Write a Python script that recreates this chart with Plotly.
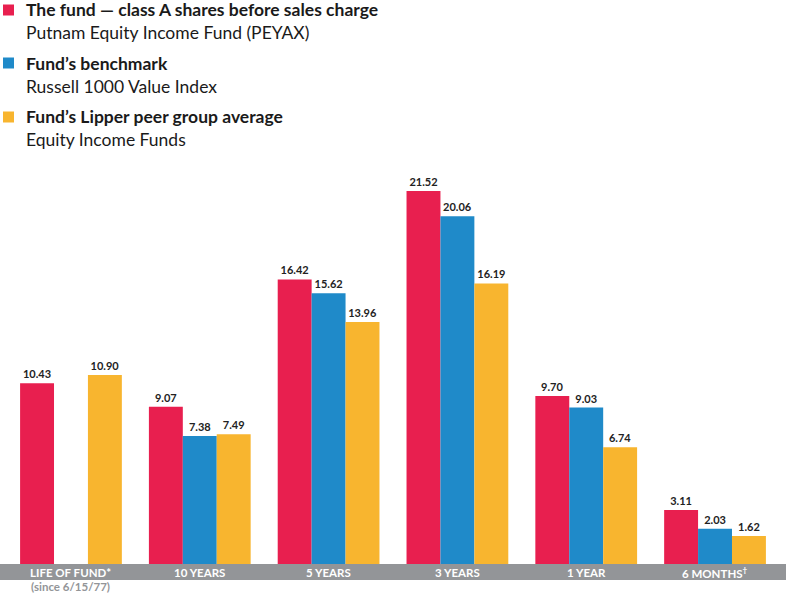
import plotly.graph_objects as go

categories = ["LIFE OF FUND*", "10 YEARS", "5 YEARS", "3 YEARS", "1 YEAR", "6 MONTHS<sup>†</sup>"]
fund = [10.43, 9.07, 16.42, 21.52, 9.70, 3.11]
benchmark = [None, 7.38, 15.62, 20.06, 9.03, 2.03]
peer = [10.90, 7.49, 13.96, 16.19, 6.74, 1.62]

series_names = ["The fund — class A shares before sales charge", "Fund’s benchmark", "Fund’s Lipper peer group average"]
series_subs = ["Putnam Equity Income Fund (PEYAX)", "Russell 1000 Value Index", "Equity Income Funds"]
colors = ["#E81F4F", "#1F8AC9", "#F8B52F"]

FONT = "Lato"

fig = go.Figure()
for vals, name, col in zip([fund, benchmark, peer], series_names, colors):
    xs = [i for i, v in enumerate(vals) if v is not None]
    ys = [v for v in vals if v is not None]
    fig.add_trace(go.Bar(
        x=xs, y=ys, name=name, marker_color=col, marker_line_width=0,
        texttemplate="<b>%{y:.2f}</b>", textposition="outside",
        textfont=dict(family=FONT, size=11, color="#222"),
        cliponaxis=False, hoverinfo="skip",
    ))

W, H = 786, 595
T, B = 160, 31
plot_h = H - T - B

fig.update_layout(
    width=W, height=H,
    margin=dict(l=0, r=0, t=T, b=B),
    barmode="group", bargap=0.21, bargroupgap=0,
    plot_bgcolor="white", paper_bgcolor="white",
    showlegend=False,
    xaxis=dict(range=[-0.551, 5.551], showticklabels=False, showgrid=False, zeroline=False, ticks=""),
    yaxis=dict(range=[0, 23.31], visible=False),
)

def py(pix):
    return (H - B - pix) / plot_h

# gray category band
fig.add_shape(type="rect", xref="paper", yref="paper", x0=0, x1=1, y0=py(580), y1=py(564),
              fillcolor="#939598", line_width=0, layer="above")

for i, c in enumerate(categories):
    fig.add_annotation(x=i, xref="x", y=py(572.5), yref="paper", text="<b>" + c + "</b>",
                       showarrow=False, font=dict(family=FONT, size=11.5, color="white"),
                       yanchor="middle")
fig.add_annotation(x=0, xref="x", y=py(586), yref="paper", text="<b>(since 6/15/77)</b>",
                   showarrow=False, font=dict(family=FONT, size=11.5, color="#939598"),
                   yanchor="middle")

# custom legend
legend_y = [10, 63, 117]
for name, sub, col, ly in zip(series_names, series_subs, colors, legend_y):
    fig.add_shape(type="rect", xref="paper", yref="paper",
                  x0=3/W, x1=14/W, y0=py(ly + 5.5), y1=py(ly - 5.5),
                  fillcolor=col, line_width=0)
    fig.add_annotation(x=24/W, xref="paper", y=py(ly), yref="paper", text="<b>" + name + "</b>",
                       showarrow=False, xanchor="left", yanchor="middle",
                       font=dict(family=FONT, size=17.5, color="#1a1a1a"))
    fig.add_annotation(x=24/W, xref="paper", y=py(ly + 23), yref="paper", text=sub,
                       showarrow=False, xanchor="left", yanchor="middle",
                       font=dict(family=FONT, size=17.5, color="#1a1a1a"))

fig.write_html("out.html", config={"displayModeBar": False},
               post_script="document.body.style.margin='0';document.body.style.padding='0';")
